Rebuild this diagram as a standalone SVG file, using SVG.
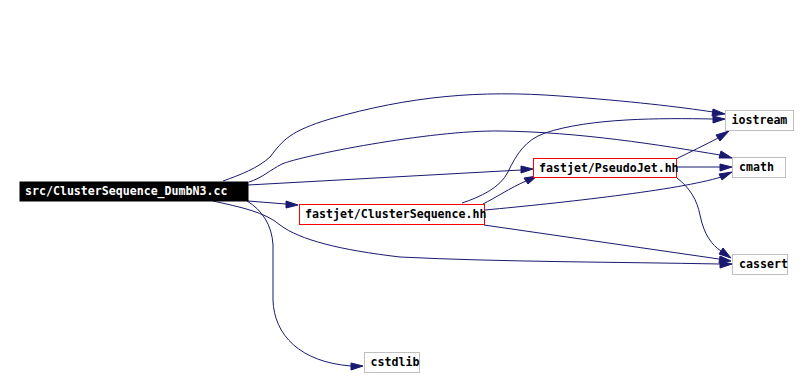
<svg xmlns="http://www.w3.org/2000/svg" width="809" height="377" viewBox="0 0 809 377">
<style>
.e{fill:none;stroke:#191970;stroke-width:1}
.a{fill:#191970;stroke:#191970;stroke-width:1}
.t{font-family:"DejaVu Sans Mono","Liberation Mono",monospace;font-weight:bold;font-size:11.6px;fill:#000}
.g{fill:#fff;stroke:#bfbfbf;stroke-width:1}
.r{fill:#fff;stroke:#ff0000;stroke-width:1}
</style>
<rect width="809" height="377" fill="#fff"/>
<g id="connectors">
<path class="e" d="M223,181 C240,175 258,168 270,157 C283,140 290,131 330,119 C410,96 480,90 560,96 C630,101 680,107 713,112"/>
<polygon class="a" points="725,114 713,109 712,116"/>
<path class="e" d="M249,182 C262,178 270,170 282,164 C300,156 430,130 500,131 C580,132 660,145 720,155"/>
<polygon class="a" points="732,158 721,151 719,158"/>
<path class="e" d="M248,185 L521,170"/>
<polygon class="a" points="533,169 521,166 521,173"/>
<path class="e" d="M248,201 L286,204"/>
<polygon class="a" points="298,205 286,201 286,208"/>
<path class="e" d="M213,201 C240,207 265,212 280,225 C300,240 340,250 400,257 C500,262 620,262 720,264"/>
<polygon class="a" points="732,264 720,261 720,268"/>
<path class="e" d="M247,201 C262,210 272,225 273,245 L273,300 C274,335 300,362 351,366"/>
<polygon class="a" points="363,366 351,363 351,370"/>
<path class="e" d="M483,204 C495,198 510,188 526,181"/>
<polygon class="a" points="537,176 524,178 528,184"/>
<path class="e" d="M462,203 C480,197 500,188 508,172 C516,155 525,140 545,133 C590,118 660,118 713,119"/>
<polygon class="a" points="725,119 713,116 713,123"/>
<path class="e" d="M485,210 C560,203 680,190 721,177"/>
<polygon class="a" points="732,172 719,174 722,180"/>
<path class="e" d="M484,225 L719,259"/>
<polygon class="a" points="731,261 720,256 719,263"/>
<path class="e" d="M676,159 C690,152 705,145 718,138"/>
<polygon class="a" points="729,131 716,135 720,141"/>
<path class="e" d="M676,167 L720,167"/>
<polygon class="a" points="732,167 720,164 720,171"/>
<path class="e" d="M677,178 C690,188 697,200 700,215 C704,235 712,245 721,251"/>
<polygon class="a" points="731,258 723,248 719,254"/>
</g>
<g id="node-main">
<rect x="20" y="182" width="228" height="19" fill="#000" stroke="#000"/>
<text class="t" x="25" y="195" style="fill:#fff">src/ClusterSequence_DumbN3.cc</text>
</g>
<g id="node-clustersequence">
<rect class="r" x="299.5" y="204.5" width="185" height="20"/>
<text class="t" x="305" y="217.5">fastjet/ClusterSequence.hh</text>
</g>
<g id="node-pseudojet">
<rect class="r" x="533.5" y="158.5" width="143" height="19"/>
<text class="t" x="539" y="171.5">fastjet/PseudoJet.hh</text>
</g>
<g id="node-iostream">
<rect class="g" x="725.5" y="110.5" width="68" height="20"/>
<text class="t" x="731.5" y="123.5">iostream</text>
</g>
<g id="node-cmath">
<rect class="g" x="732.5" y="157.5" width="53" height="20"/>
<text class="t" x="739" y="171">cmath</text>
</g>
<g id="node-cassert">
<rect class="g" x="732.5" y="254.5" width="55" height="20"/>
<text class="t" x="739" y="267.5">cassert</text>
</g>
<g id="node-cstdlib">
<rect class="g" x="364.5" y="352.5" width="55" height="20"/>
<text class="t" x="370.5" y="365.5">cstdlib</text>
</g>
</svg>
